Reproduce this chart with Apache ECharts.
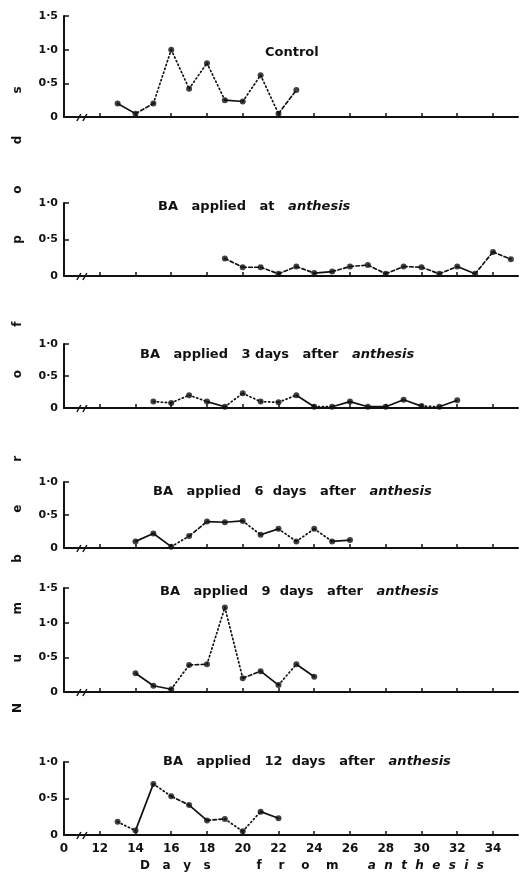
<!DOCTYPE html>
<html>
<head>
<meta charset="utf-8">
<script src="https://cdn.jsdelivr.net/npm/echarts@6/dist/echarts.min.js"></script>
<style>
html,body{margin:0;padding:0;background:#fff}
#main{width:523px;height:879px}
</style>
</head>
<body>
<div id="main"></div>
<script>
// days from anthesis / number of pods, one pair per panel
var days1 = [13, 14, 15, 16, 17, 18, 19, 20, 21, 22, 23];
var pods1 = [0.2, 0.05, 0.2, 1.0, 0.42, 0.8, 0.25, 0.23, 0.62, 0.05, 0.4];
var days2 = [19, 20, 21, 22, 23, 24, 25, 26, 27, 28, 29, 30, 31, 32, 33, 34, 35];
var pods2 = [0.24, 0.12, 0.12, 0.03, 0.13, 0.04, 0.06, 0.13, 0.15, 0.03, 0.13, 0.12, 0.03, 0.13, 0.03, 0.33, 0.23];
var days3 = [15, 16, 17, 18, 19, 20, 21, 22, 23, 24, 25, 26, 27, 28, 29, 30, 31, 32];
var pods3 = [0.1, 0.08, 0.2, 0.1, 0.02, 0.23, 0.1, 0.09, 0.2, 0.02, 0.02, 0.1, 0.02, 0.02, 0.13, 0.03, 0.02, 0.12];
var days4 = [14, 15, 16, 17, 18, 19, 20, 21, 22, 23, 24, 25, 26];
var pods4 = [0.1, 0.22, 0.02, 0.18, 0.4, 0.39, 0.41, 0.2, 0.29, 0.1, 0.29, 0.1, 0.12];
var days5 = [14, 15, 16, 17, 18, 19, 20, 21, 22, 23, 24];
var pods5 = [0.27, 0.09, 0.04, 0.39, 0.4, 1.22, 0.2, 0.3, 0.1, 0.4, 0.22];
var days6 = [13, 14, 15, 16, 17, 18, 19, 20, 21, 22];
var pods6 = [0.18, 0.06, 0.7, 0.53, 0.41, 0.2, 0.22, 0.05, 0.32, 0.23];

// line type of each segment: s solid, d dashed, o dotted
var seg1 = 'sdoooosood';
var seg2 = 'dddddsdddddddsdd';
var seg3 = 'ooosoooosossssso';
var seg4 = 'ssodssosooos';
var seg5 = 'ssodoodsos';
var seg6 = 'osodsdoos';

var panelTitles = ['Control', 'BA   applied   at   ', 'BA   applied   3 days   after   ', 'BA   applied   6  days   after   ',
    'BA   applied   9  days   after   ', 'BA   applied   12  days   after   '];
var yMaxes = [1.5, 1.0, 1.0, 1.0, 1.5, 1.0];
var xTickValues = [12, 14, 16, 18, 20, 22, 24, 26, 28, 30, 32, 34];
var xLabelValues = [10, 12, 14, 16, 18, 20, 22, 24, 26, 28, 30, 32, 34];
var xTickLabels = ['0', '12', '14', '16', '18', '20', '22', '24', '26', '28', '30', '32', '34'];
var yTickLabels = ['0', '0·5', '1·0', '1·5'];

var allDays = [days1, days2, days3, days4, days5, days6];
var allPods = [pods1, pods2, pods3, pods4, pods5, pods6];
var allSegs = [seg1, seg2, seg3, seg4, seg5, seg6];

// layout (px)
var gridTops = [16, 203, 344, 482, 588, 762];
var gridHeights = [101, 73, 64, 66, 104, 73];
var titleLeft = [265, 158, 140, 153, 160, 163];
var titleTop = [46, 200, 348, 485, 585, 755];

var font = 'DejaVu Sans';
var ink = '#111';
var lineTypes = {s: 'solid', d: [3.5, 2.5], o: [1.2, 2.8]};
var richText = {
    n: {fontFamily: font, fontSize: 13, fontWeight: 'bold', color: ink},
    i: {fontFamily: font, fontSize: 13, fontWeight: 'bold', fontStyle: 'italic', color: ink}
};

var myChart = echarts.init(document.getElementById('main'));

var grids = [], xAxes = [], yAxes = [], series = [], titles = [];
for (var p = 0; p < 6; p++) {
    grids.push({left: 64, right: 5, top: gridTops[p], height: gridHeights[p]});
    xAxes.push({
        type: 'value', gridIndex: p, min: 10, max: 35.4,
        axisLine: {lineStyle: {color: ink, width: 2}},
        axisTick: {inside: true, length: 4, customValues: xTickValues, lineStyle: {color: ink, width: 1.5}},
        axisLabel: {
            show: p === 5, customValues: xLabelValues, margin: 8,
            color: ink, fontFamily: font, fontSize: 12, fontWeight: 'bold',
            formatter: function (v) { return xTickLabels[xLabelValues.indexOf(v)] || ''; }
        },
        splitLine: {show: false}
    });
    yAxes.push({
        type: 'value', gridIndex: p, min: 0, max: yMaxes[p], interval: 0.5,
        axisLine: {show: true, lineStyle: {color: ink, width: 2}},
        axisTick: {show: true, inside: true, length: 5, lineStyle: {color: ink, width: 1.5}},
        axisLabel: {
            margin: 6, color: ink, fontFamily: font, fontSize: 11, fontWeight: 'bold',
            formatter: function (v) { return yTickLabels[Math.round(v / 0.5)]; }
        },
        splitLine: {show: false}
    });
    var d = allDays[p], v = allPods[p], s = allSegs[p];
    for (var i = 0; i < d.length - 1; i++) {
        series.push({
            type: 'line', xAxisIndex: p, yAxisIndex: p, symbol: 'none', silent: true,
            data: [[d[i], v[i]], [d[i + 1], v[i + 1]]],
            lineStyle: {color: ink, width: 1.7, type: lineTypes[s.charAt(i)], cap: 'round'}
        });
    }
    series.push({
        type: 'scatter', xAxisIndex: p, yAxisIndex: p, symbolSize: 6,
        data: d.map(function (x, k) { return [x, v[k]]; }),
        itemStyle: {color: ink}
    });
    titles.push({
        text: p === 0 ? '{n|Control}' : '{n|' + panelTitles[p] + '}{i|anthesis}',
        left: titleLeft[p], top: titleTop[p], padding: 0,
        textStyle: {rich: richText}
    });
}
titles.push({
    text: '{n|D   a   y   s           f    r    o    m       }{i|a  n  t  h  e  s  i  s}',
    left: 140, top: 860, padding: 0,
    textStyle: {
        rich: {
            n: {fontFamily: font, fontSize: 12, fontWeight: 'bold', color: ink},
            i: {fontFamily: font, fontSize: 12, fontWeight: 'bold', fontStyle: 'italic', color: ink}
        }
    }
});

var option = {
    animation: false,
    backgroundColor: '#fff',
    title: titles,
    grid: grids,
    xAxis: xAxes,
    yAxis: yAxes,
    series: series
};
myChart.setOption(option);

// axis break marks and the vertical y label
var graphics = [];
for (var q = 0; q < 6; q++) {
    var pt = myChart.convertToPixel({gridIndex: q}, [11, 0]);
    graphics.push({type: 'rect', shape: {x: pt[0] - 3, y: pt[1] - 3, width: 6, height: 6}, style: {fill: '#fff'}});
    graphics.push({type: 'line', shape: {x1: pt[0] - 5, y1: pt[1] + 4, x2: pt[0] - 1, y2: pt[1] - 3}, style: {stroke: ink, lineWidth: 1.5}});
    graphics.push({type: 'line', shape: {x1: pt[0] + 1, y1: pt[1] + 4, x2: pt[0] + 5, y2: pt[1] - 3}, style: {stroke: ink, lineWidth: 1.5}});
}
var yName = 'Number of pods';
var units = [], acc = 0;
for (var c = 0; c < yName.length; c++) {
    if (yName[c] === ' ') { acc += 0.7; continue; }
    units.push([yName[c], acc]);
    acc += 1;
}
var yFrom = 708, yTo = 90, last = units[units.length - 1][1];
units.forEach(function (u) {
    graphics.push({
        type: 'text', x: 18, y: yFrom - (yFrom - yTo) * u[1] / last, rotation: Math.PI / 2,
        style: {text: u[0], fontFamily: font, fontSize: 12, fontWeight: 'bold', fill: ink, align: 'center', verticalAlign: 'middle'}
    });
});
myChart.setOption({graphic: graphics});
</script>
</body>
</html>
